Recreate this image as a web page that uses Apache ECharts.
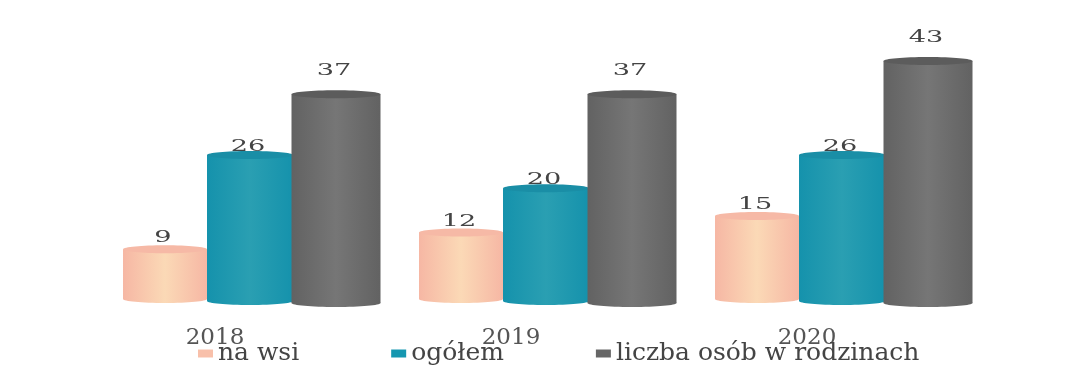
<!DOCTYPE html>
<html><head><meta charset="utf-8">
<style>html,body{margin:0;padding:0;background:#fff}#c{width:1089px;height:367px}</style>
<script src="https://cdn.jsdelivr.net/npm/echarts@6/dist/echarts.min.js"></script>
</head><body><div id="c"></div>
<script>
const categories = ['2018', '2019', '2020'];
const naWsi = [9, 12, 15];
const ogolem = [26, 20, 26];
const liczbaOsob = [37, 37, 43];
const seriesNames = ['na wsi', 'ogółem', 'liczba osób w rodzinach'];

const looks = [
  {legend:'#f8c0aa', edge:'#f6b7a4', mid:'#fbd9b6', cap:'#f6b9a6', w:84, foot:8, lift:-1},
  {legend:'#1597b0', edge:'#1592ac', mid:'#2a9fb2', cap:'#1a8ea6', w:86, foot:10, lift:-4},
  {legend:'#666666', edge:'#626262', mid:'#767676', cap:'#5c5c5c', w:89, foot:12, lift:11}
];
const bandOffset = [-50, 35, 121];
const font = '"DejaVu Serif"';

function renderCyl(params, api) {
  const s = params.seriesIndex, k = looks[s];
  const p = api.coord([api.value(0), api.value(1)]);
  const base = api.coord([api.value(0), 0]);
  const cx = p[0] + bandOffset[s], w = k.w, ry = 4;
  const x = cx - w / 2, top = p[1], bot = base[1] + k.foot;
  const fill = new echarts.graphic.LinearGradient(0, 0, 1, 0, [
    {offset: 0, color: k.edge}, {offset: 0.5, color: k.mid}, {offset: 1, color: k.edge}
  ]);
  return {type: 'group', children: [
    {type: 'ellipse', shape: {cx: cx, cy: bot - ry, rx: w / 2, ry: ry}, style: {fill: fill}},
    {type: 'rect', shape: {x: x, y: top + ry, width: w, height: bot - top - 2 * ry}, style: {fill: fill}},
    {type: 'ellipse', shape: {cx: cx, cy: top + ry, rx: w / 2, ry: ry}, style: {fill: k.cap}},
    {type: 'text', x: cx - 2, y: top - k.lift, scaleX: 1.6, style: {
      text: String(api.value(1)), fontFamily: font, fontSize: 17, fill: '#444',
      textAlign: 'center', textVerticalAlign: 'bottom'
    }, z2: 10}
  ]};
}

const dataSets = [naWsi, ogolem, liczbaOsob];
const chart = echarts.init(document.getElementById('c'));
chart.setOption({
  animation: false,
  backgroundColor: '#fff',
  grid: {left: 67, right: 134, top: 57, bottom: 72},
  legend: {
    left: 193, top: 336, itemWidth: 15, itemHeight: 8, itemGap: 92, icon: 'rect',
    textStyle: {fontFamily: font, fontSize: 25, color: '#444'},
    data: seriesNames
  },
  xAxis: {
    type: 'category', data: categories,
    axisLine: {show: false}, axisTick: {show: false},
    axisLabel: {fontFamily: font, fontSize: 23, color: '#555', margin: 32}
  },
  yAxis: {type: 'value', min: 0, max: 43, show: false, splitLine: {show: false}},
  series: seriesNames.map((n, i) => ({
    name: n, type: 'custom', renderItem: renderCyl, clip: false,
    itemStyle: {color: looks[i].legend},
    encode: {x: 0, y: 1},
    data: categories.map((c, j) => [j, dataSets[i][j]])
  }))
});
</script></body></html>
